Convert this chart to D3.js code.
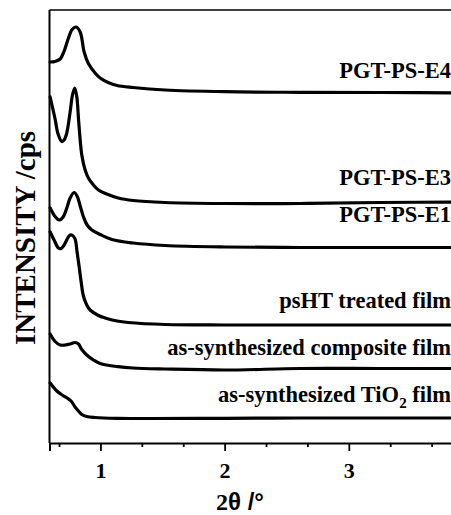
<!DOCTYPE html>
<html>
<head>
<meta charset="utf-8">
<script src="https://cdn.jsdelivr.net/npm/d3@7/dist/d3.min.js"></script>
<style>
  html, body { margin: 0; padding: 0; background: #fff; overflow: hidden; }
  svg { display: block; }
</style>
</head>
<body>
<svg id="chart" width="451" height="515"></svg>
<script>
// Low-angle XRD patterns, 2θ (degrees) vs. stacked intensity (arbitrary cps units)
const sampleNames = [
  "PGT-PS-E4",
  "PGT-PS-E3",
  "PGT-PS-E1",
  "psHT treated film",
  "as-synthesized composite film",
  "as-synthesized TiO2 film"
];

const pgtE4 = [
  [0.595, 381], [0.635, 381.5], [0.676, 384], [0.708, 392], [0.740, 404],
  [0.772, 413.5], [0.804, 416], [0.837, 411], [0.869, 391], [0.901, 380],
  [0.957, 370], [0.998, 365], [1.062, 360.5], [1.134, 357.5], [1.263, 355.5],
  [1.521, 353], [2.004, 351.3], [2.61, 350.7], [3.25, 350.5], [3.98, 350]
];

const pgtE3 = [
  [0.595, 346], [0.635, 324], [0.659, 309], [0.689, 301.5], [0.708, 303],
  [0.729, 310], [0.756, 331], [0.775, 348], [0.793, 355], [0.810, 346],
  [0.823, 325], [0.837, 303], [0.850, 288], [0.877, 273], [0.903, 265],
  [0.944, 258], [0.984, 253], [1.051, 249], [1.143, 245], [1.263, 242.5],
  [1.521, 240.5], [2.004, 239.5], [2.61, 239.5], [3.25, 240.5], [3.98, 241]
];

const pgtE1 = [
  [0.595, 235], [0.635, 226.5], [0.668, 223], [0.700, 226], [0.732, 236],
  [0.756, 245], [0.788, 250.5], [0.812, 247], [0.837, 237], [0.863, 226.3],
  [0.893, 218], [0.931, 213], [0.998, 208.5], [1.092, 203.5], [1.263, 200],
  [1.521, 197.5], [2.004, 196], [2.61, 195.5], [3.25, 195.5], [3.98, 195.5]
];

const psHT = [
  [0.595, 211], [0.627, 203], [0.662, 195], [0.684, 194.5], [0.708, 198],
  [0.737, 205], [0.756, 208], [0.776, 207.5], [0.796, 204], [0.812, 191],
  [0.829, 176], [0.845, 161], [0.863, 147], [0.890, 138], [0.917, 133],
  [0.984, 127.5], [1.038, 125], [1.134, 122], [1.223, 120.5], [1.521, 118.5],
  [2.004, 118], [2.61, 118], [3.25, 118], [3.98, 118]
];

const composite = [
  [0.595, 109], [0.635, 101.5], [0.676, 98], [0.716, 98], [0.756, 99],
  [0.796, 100.5], [0.823, 99], [0.850, 93.5], [0.890, 88], [0.944, 83],
  [0.998, 79.5], [1.143, 76.3], [1.263, 75], [1.521, 74], [2.004, 73],
  [2.61, 74.5], [3.25, 74.5], [3.98, 74.5]
];

const tio2 = [
  [0.595, 60], [0.649, 52], [0.692, 48], [0.732, 45], [0.764, 42],
  [0.796, 36], [0.823, 32], [0.850, 28.5], [0.890, 26.5], [0.957, 25.5],
  [1.134, 24.7], [2.004, 24.7], [2.61, 25], [3.25, 25], [3.98, 25]
];

const allSeries = [pgtE4, pgtE3, pgtE1, psHT, composite, tio2];

// intensity at which each sample name sits (just above its trace)
const labelLevels = [365, 258, 221.5, 135, 88, 41.3];

const xMajorTicks = [1, 2, 3];
const xMinorTicks = [2/3, 4/3, 5/3, 7/3, 8/3, 10/3, 11/3];
const xDomain = [0.59, 4.0];
const yDomain = [0, 433];

(function draw() {
  const svg = d3.select("#chart");
  const plotLeft = 49.5, plotTop = 10, plotBottom = 443;
  const pxPerUnit = 124.2;
  const x = d3.scaleLinear().domain(xDomain)
    .range([plotLeft, plotLeft + (xDomain[1] - xDomain[0]) * pxPerUnit]);
  const y = d3.scaleLinear().domain(yDomain).range([plotBottom, plotTop]);

  const serif = "Liberation Serif, Times New Roman, serif";
  const sans = "Liberation Sans, Arial, sans-serif";

  // traces
  const line = d3.line()
    .x(d => x(d[0]))
    .y(d => y(d[1]))
    .curve(d3.curveCatmullRom.alpha(0.5));

  svg.append("g")
    .selectAll("path")
    .data(allSeries)
    .join("path")
    .attr("d", line)
    .attr("fill", "none")
    .attr("stroke", "#000")
    .attr("stroke-width", 3.2)
    .attr("stroke-linejoin", "round")
    .attr("stroke-linecap", "round");

  // frame: left and top edges
  svg.append("line")
    .attr("x1", plotLeft).attr("x2", plotLeft)
    .attr("y1", plotTop).attr("y2", plotBottom)
    .attr("stroke", "#000").attr("stroke-width", 2);
  svg.append("line")
    .attr("x1", plotLeft).attr("x2", x.range()[1])
    .attr("y1", plotTop).attr("y2", plotTop)
    .attr("stroke", "#000").attr("stroke-width", 1.6);

  // bottom axis: major ticks with labels, minor ticks without
  const gMajor = svg.append("g")
    .attr("transform", `translate(0,${plotBottom})`)
    .call(d3.axisBottom(x)
      .tickValues(xMajorTicks)
      .tickSize(8)
      .tickPadding(10)
      .tickFormat(d3.format("d")));
  gMajor.attr("font-family", serif).attr("font-size", 22).attr("font-weight", "bold");
  gMajor.select(".domain").attr("stroke-width", 2);
  gMajor.selectAll(".tick line").attr("stroke-width", 1.8);
  gMajor.selectAll(".tick text").attr("fill", "#000").attr("dy", "0.78em");

  const gMinor = svg.append("g")
    .attr("transform", `translate(0,${plotBottom})`)
    .call(d3.axisBottom(x)
      .tickValues(xMinorTicks)
      .tickSize(4)
      .tickFormat(""));
  gMinor.select(".domain").remove();
  gMinor.selectAll(".tick line").attr("stroke-width", 1.8);

  // sample names, right aligned to the edge
  const labelRight = 451;
  svg.append("g")
    .attr("font-family", serif)
    .attr("font-weight", "bold")
    .attr("font-size", 22.5)
    .attr("text-anchor", "end")
    .attr("fill", "#000")
    .selectAll("text")
    .data(sampleNames)
    .join("text")
    .attr("x", labelRight)
    .attr("y", (d, i) => y(labelLevels[i]))
    .each(function (d) {
      const t = d3.select(this);
      const m = d.match(/^(.*TiO)2( film)$/);
      if (m) {
        t.append("tspan").text(m[1]);
        t.append("tspan").attr("font-size", 15).attr("dy", 6).text("2");
        t.append("tspan").attr("dy", -6).text(m[2]);
      } else {
        t.text(d);
      }
    });

  // axis titles
  const xTitle = svg.append("text")
    .attr("x", 240)
    .attr("y", 510)
    .attr("text-anchor", "middle")
    .attr("font-size", 24)
    .attr("font-weight", "bold")
    .attr("fill", "#000");
  xTitle.append("tspan").attr("font-family", serif).text("2");
  xTitle.append("tspan").attr("font-family", sans).text("θ /°");

  svg.append("text")
    .attr("transform", "translate(35,238) rotate(-90)")
    .attr("text-anchor", "middle")
    .attr("font-family", serif)
    .attr("font-weight", "bold")
    .attr("font-size", 29)
    .attr("fill", "#000")
    .text("INTENSITY /cps");
})();
</script>
</body>
</html>
